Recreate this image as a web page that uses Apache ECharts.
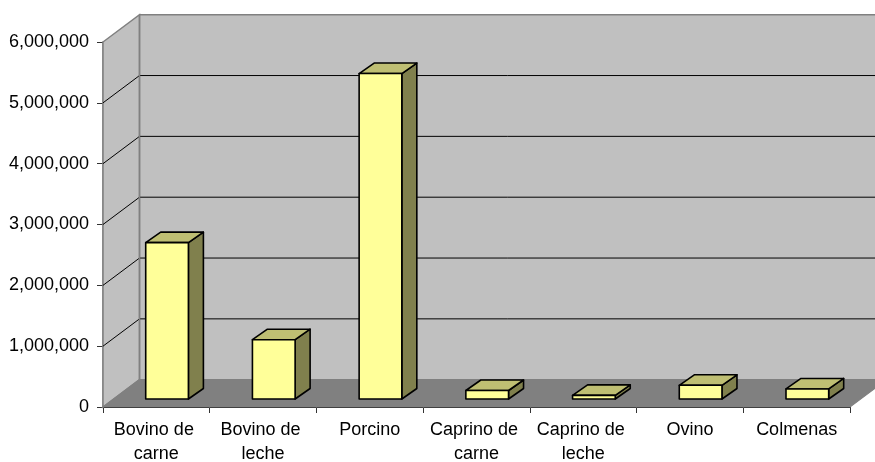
<!DOCTYPE html>
<html>
<head>
<meta charset="utf-8">
<script src="https://cdn.jsdelivr.net/npm/echarts@6/dist/echarts.min.js"></script>
<style>
  html, body { margin: 0; padding: 0; background: #fff; }
  #chart { width: 875px; height: 462px; }
</style>
</head>
<body>
<div id="chart"></div>
<script>
// Head counts per livestock category
const CATEGORIES = ['Bovino de carne', 'Bovino de leche', 'Porcino', 'Caprino de carne', 'Caprino de leche', 'Ovino', 'Colmenas'];
const VALUES = [2570000, 975000, 5350000, 140000, 60000, 225000, 165000];
const Y_MIN = 0;
const Y_MAX = 6000000;
const Y_STEP = 1000000;

// 3D box look: depth of the walls, where the bars sit in that depth, and the bar thickness
const WALL_DEPTH = { dx: 36.5, dy: -27.3 };
const BAR_FRONT = 0.293;
const BAR_DEPTH = { dx: 15, dy: -10.5 };
const BAR_WIDTH_RATIO = 0.4;

const COLORS = {
  wall: '#c0c0c0',
  floor: '#808080',
  edge: '#808080',
  grid: '#000000',
  front: '#ffff99',
  top: '#bfbf73',
  side: '#80804d'
};

const FONT = "'Liberation Sans', Arial, sans-serif";

const chart = echarts.init(document.getElementById('chart'), null, { renderer: 'canvas' });

function renderFrame(params, api) {
  const cs = params.coordSys;
  const x0 = cs.x, w = cs.width;
  const dx = WALL_DEPTH.dx, dy = WALL_DEPTH.dy;
  const yTop = api.coord([0, Y_MAX])[1];
  const yBot = api.coord([0, Y_MIN])[1];
  const children = [];

  // back wall
  children.push({
    type: 'rect',
    shape: { x: x0 + dx, y: yTop + dy, width: w, height: yBot - yTop },
    style: { fill: COLORS.wall, stroke: null }
  });
  // left side wall
  children.push({
    type: 'polygon',
    shape: { points: [[x0, yTop], [x0 + dx, yTop + dy], [x0 + dx, yBot + dy], [x0, yBot]] },
    style: { fill: COLORS.wall, stroke: COLORS.edge, lineWidth: 1.5 }
  });
  // floor
  children.push({
    type: 'polygon',
    shape: { points: [[x0, yBot], [x0 + dx, yBot + dy], [x0 + w + dx, yBot + dy], [x0 + w, yBot]] },
    style: { fill: COLORS.floor, stroke: COLORS.edge, lineWidth: 1.2 }
  });
  // gridlines on back and side walls
  for (let v = Y_MIN + Y_STEP; v < Y_MAX; v += Y_STEP) {
    const y = api.coord([0, v])[1];
    children.push({
      type: 'line',
      shape: { x1: x0 + dx, y1: y + dy, x2: x0 + w + dx, y2: y + dy },
      style: { stroke: COLORS.grid, lineWidth: 1 }
    });
    children.push({
      type: 'line',
      shape: { x1: x0, y1: y, x2: x0 + dx, y2: y + dy },
      style: { stroke: COLORS.grid, lineWidth: 1 }
    });
  }
  // top edge and back corner of the walls
  children.push({
    type: 'line',
    shape: { x1: x0 + dx, y1: yTop + dy, x2: x0 + w + dx, y2: yTop + dy },
    style: { stroke: COLORS.edge, lineWidth: 1.5 }
  });
  children.push({
    type: 'line',
    shape: { x1: x0 + dx, y1: yTop + dy, x2: x0 + dx, y2: yBot + dy },
    style: { stroke: COLORS.edge, lineWidth: 1.5 }
  });
  return { type: 'group', children: children };
}

function renderBar(params, api) {
  const i = api.value(0);
  const v = api.value(1);
  const base = api.coord([i, 0]);
  const peak = api.coord([i, v]);
  const bw = api.size([1, 0])[0] * BAR_WIDTH_RATIO;
  const fx = WALL_DEPTH.dx * BAR_FRONT;
  const fy = WALL_DEPTH.dy * BAR_FRONT;
  const xl = base[0] - bw / 2 + fx;
  const xr = xl + bw;
  const yb = base[1] + fy;
  const yt = peak[1] + fy;
  const bdx = BAR_DEPTH.dx, bdy = BAR_DEPTH.dy;
  const stroke = { stroke: '#000', lineWidth: 1.6, lineJoin: 'round' };
  return {
    type: 'group',
    children: [
      {
        type: 'polygon',
        shape: { points: [[xr, yt], [xr + bdx, yt + bdy], [xr + bdx, yb + bdy], [xr, yb]] },
        style: Object.assign({ fill: COLORS.side }, stroke)
      },
      {
        type: 'polygon',
        shape: { points: [[xl, yt], [xl + bdx, yt + bdy], [xr + bdx, yt + bdy], [xr, yt]] },
        style: Object.assign({ fill: COLORS.top }, stroke)
      },
      {
        type: 'rect',
        shape: { x: xl, y: yt, width: bw, height: yb - yt },
        style: Object.assign({ fill: COLORS.front }, stroke)
      }
    ]
  };
}

const option = {
  animation: false,
  backgroundColor: '#ffffff',
  grid: { left: 103, right: 25, top: 42, bottom: 55, containLabel: false, outerBoundsMode: 'none' },
  xAxis: {
    type: 'category',
    data: CATEGORIES,
    boundaryGap: true,
    axisLine: { show: true, lineStyle: { color: '#000', width: 1.2 } },
    axisTick: { show: true, length: 6, lineStyle: { color: '#333' } },
    axisLabel: {
      interval: 0,
      margin: 11,
      color: '#000',
      fontFamily: FONT,
      fontSize: 18,
      lineHeight: 24,
      width: 104,
      overflow: 'break'
    },
    splitLine: { show: false }
  },
  yAxis: {
    type: 'value',
    min: Y_MIN,
    max: Y_MAX,
    interval: Y_STEP,
    axisLine: { show: true, lineStyle: { color: '#808080', width: 1.5 } },
    axisTick: { show: true, length: 6, lineStyle: { color: '#333' } },
    axisLabel: {
      margin: 14,
      color: '#000',
      fontFamily: FONT,
      fontSize: 18,
      formatter: function (v) { return v.toLocaleString('en-US'); }
    },
    splitLine: { show: false }
  },
  series: [
    {
      type: 'custom',
      name: 'frame',
      clip: false,
      z: 1,
      silent: true,
      data: [[0, 0]],
      renderItem: renderFrame
    },
    {
      type: 'custom',
      name: 'Cabezas',
      clip: false,
      z: 3,
      data: VALUES.map(function (v, i) { return [i, v]; }),
      encode: { x: 0, y: 1 },
      renderItem: renderBar
    }
  ]
};

chart.setOption(option);
</script>
</body>
</html>
